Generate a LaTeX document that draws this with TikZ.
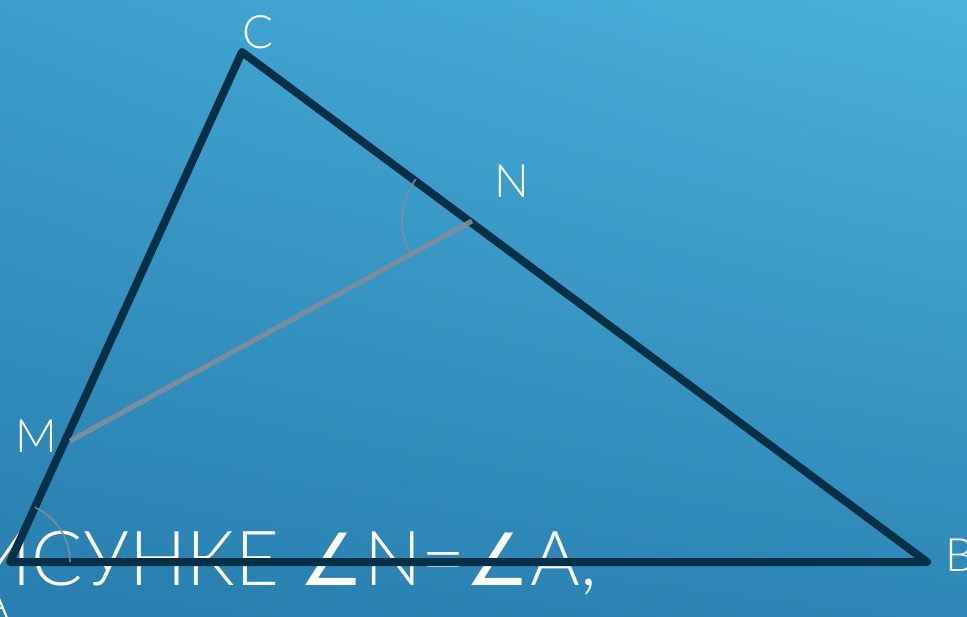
\documentclass[tikz,border=0pt]{standalone}
\usepackage{fontspec}
\usetikzlibrary{shadings}
\IfFontExistsTF{Lato Light}{\newfontfamily\labfont{Lato Light}}{\newfontfamily\labfont{Lato}}
\newfontfamily\symfont{DejaVu Sans}
\definecolor{navy}{RGB}{5,48,72}
\definecolor{segc}{RGB}{128,142,155}
\definecolor{bgUL}{RGB}{60,158,205}
\definecolor{bgUR}{RGB}{75,178,218}
\definecolor{bgLL}{RGB}{40,126,174}
\definecolor{bgLR}{RGB}{45,134,181}
\tikzset{
  side/.style={draw=navy,line width=8pt,line join=round,line cap=round},
  seg/.style={draw=segc,line width=5pt,opacity=0.9},
  anglearc/.style={draw=segc,line width=1.6pt,opacity=0.9},
  lab/.style={text=white,font=\labfont\fontsize{46}{46}\selectfont,inner sep=0pt},
  bigtext/.style={text=white,font=\labfont\fontsize{76}{76}\selectfont,inner sep=0pt}
}
\begin{document}
\begin{tikzpicture}[x=1pt,y=-1pt]
\useasboundingbox (0,0) rectangle (967,617);
\clip (0,0) rectangle (967,617);
\shade[upper left=bgUL,upper right=bgUR,lower left=bgLL,lower right=bgLR] (0,0) rectangle (967,617);
\coordinate (A) at (10,562);
\coordinate (B) at (927,562);
\coordinate (C) at (242,52);
\coordinate (M) at (70,441);
\coordinate (N) at (472,221);
\node[bigtext,anchor=base east] (txt) at (597,585) {ИСУНКЕ {\symfont\fontsize{72}{72}\selectfont ∠}N={\symfont\fontsize{72}{72}\selectfont ∠}A,};
\draw[side] (A) -- (B) -- (C) -- cycle;
\draw[seg] (M) -- (N);
\draw[anglearc] (N) ++(216.7:70) arc[start angle=216.7,end angle=150,radius=70];
\draw[anglearc] (A) ++(-65.5:60) arc[start angle=-65.5,end angle=0,radius=60];
\node[lab] (lC) at (258,32) {C};
\node[lab] (lN) at (512,181) {N};
\node[lab] (lM) at (36,436) {M};
\node[lab,anchor=west] (lB) at (945,555) {B};
\node[lab] (lA) at (-5,603) {A};
\end{tikzpicture}
\end{document}
